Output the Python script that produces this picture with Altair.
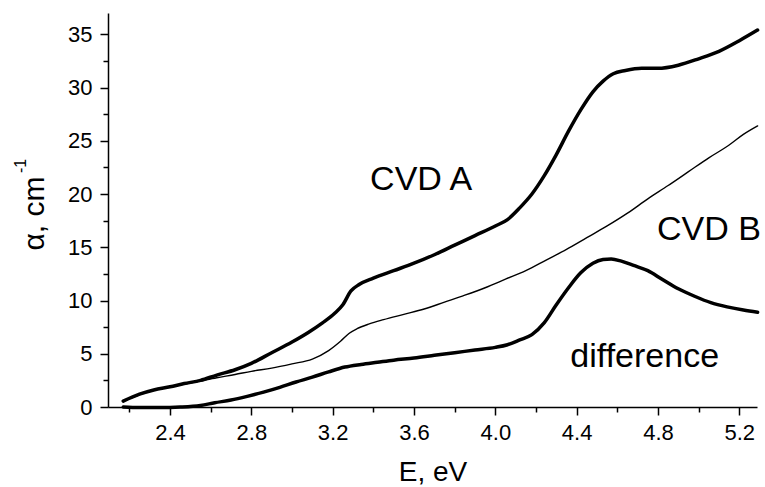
import altair as alt
import pandas as pd

# ---- data ----
cvd_a_x = [2.17, 2.25, 2.32, 2.40, 2.47, 2.55, 2.63, 2.72, 2.80, 2.90, 3.00, 3.08, 3.15,
           3.21, 3.25, 3.29, 3.33, 3.40, 3.50, 3.60, 3.70, 3.80, 3.90, 4.00, 4.06, 4.12,
           4.18, 4.24, 4.30, 4.36, 4.42, 4.48, 4.53, 4.58, 4.64, 4.72, 4.80, 4.90, 5.00,
           5.10, 5.20, 5.29]
cvd_a_y = [0.55, 1.2, 1.6, 1.9, 2.2, 2.5, 3.0, 3.5, 4.1, 5.1, 6.1, 7.0, 7.9,
           8.8, 9.6, 10.9, 11.5, 12.1, 12.8, 13.5, 14.3, 15.2, 16.1, 17.0, 17.6, 18.7,
           20.0, 21.7, 23.7, 25.9, 27.9, 29.6, 30.6, 31.3, 31.6, 31.8, 31.8, 32.1, 32.7,
           33.4, 34.4, 35.4]

cvd_b_x = [2.17, 2.25, 2.32, 2.40, 2.47, 2.55, 2.63, 2.72, 2.80, 2.90, 3.00, 3.10, 3.18,
           3.24, 3.28, 3.32, 3.38, 3.45, 3.55, 3.65, 3.75, 3.85, 3.95, 4.05, 4.15, 4.25,
           4.35, 4.45, 4.55, 4.65, 4.75, 4.85, 4.95, 5.05, 5.15, 5.22, 5.29]
cvd_b_y = [0.55, 1.15, 1.6, 1.9, 2.15, 2.45, 2.75, 3.05, 3.35, 3.65, 4.05, 4.5, 5.3,
           6.2, 6.9, 7.35, 7.8, 8.2, 8.7, 9.2, 9.85, 10.5, 11.2, 12.0, 12.8, 13.8,
           14.8, 15.9, 17.0, 18.2, 19.55, 20.8, 22.1, 23.4, 24.6, 25.6, 26.4]

diff_x = [2.17, 2.25, 2.35, 2.45, 2.55, 2.62, 2.70, 2.78, 2.86, 2.94, 3.02, 3.10, 3.18,
          3.26, 3.34, 3.42, 3.50, 3.60, 3.70, 3.80, 3.90, 4.00, 4.06, 4.12, 4.18, 4.24,
          4.30, 4.36, 4.42, 4.48, 4.53, 4.57, 4.62, 4.68, 4.75, 4.82, 4.90, 4.98, 5.06,
          5.14, 5.22, 5.29]
diff_y = [0.0, -0.05, -0.05, 0.0, 0.15, 0.4, 0.65, 1.0, 1.4, 1.85, 2.35, 2.8, 3.3,
          3.75, 4.0, 4.2, 4.4, 4.6, 4.85, 5.1, 5.35, 5.6, 5.85, 6.3, 6.8, 7.9,
          9.6, 11.2, 12.6, 13.5, 13.85, 13.9, 13.7, 13.3, 12.8, 12.0, 11.1, 10.4, 9.8,
          9.4, 9.1, 8.9]

series_names = ["CVD A", "CVD B", "difference"]
series_widths = [3.5, 1.4, 3.5]

label_texts = ["CVD A", "CVD B", "difference"]
label_x = [3.384, 4.795, 4.369]
label_y = [20.35, 15.72, 3.76]

x_tick_values = [2.2, 2.4, 2.6, 2.8, 3.0, 3.2, 3.4, 3.6, 3.8, 4.0, 4.2, 4.4, 4.6, 4.8, 5.0, 5.2]
y_tick_values = [0, 2.5, 5, 7.5, 10, 12.5, 15, 17.5, 20, 22.5, 25, 27.5, 30, 32.5, 35]

# ---- build tables ----
series_frames = []
for name, xs, ys in zip(series_names, [cvd_a_x, cvd_b_x, diff_x], [cvd_a_y, cvd_b_y, diff_y]):
    series_frames.append(pd.DataFrame({"E": xs, "alpha": ys, "order": list(range(len(xs)))}))

labels_df = pd.DataFrame({"text": label_texts, "E": label_x, "alpha": label_y})
sup_df = pd.DataFrame({"t": ["-1"]})

FONT = "Liberation Sans"

x_scale = alt.Scale(domain=[2.095, 5.287], nice=False, zero=False)
y_scale = alt.Scale(domain=[0, 37], nice=False, zero=False)

x_major = "abs(datum.value / 0.4 - round(datum.value / 0.4)) < 0.001"
y_major = "abs(datum.value / 5 - round(datum.value / 5)) < 0.001"

x_axis = alt.Axis(
    values=x_tick_values,
    title="E, eV",
    grid=False,
    domainColor="black", domainWidth=1.5,
    tickColor="black", tickWidth=1.5,
    tickSize={"condition": {"test": x_major, "value": 8}, "value": 5},
    labelExpr=f"({x_major}) ? format(datum.value, '.1f') : ''",
    labelFont=FONT, labelFontSize=22, labelColor="black",
    labelPadding=7, labelFlush=False, labelOverlap=False,
    titleFont=FONT, titleFontSize=28, titleFontWeight="normal", titleColor="black",
    titleX=324.5, titleY=73.5, titleBaseline="alphabetic", titleAlign="center",
)

y_axis = alt.Axis(
    values=y_tick_values,
    title="α, cm",
    grid=False,
    domainColor="black", domainWidth=1.5,
    tickColor="black", tickWidth=1.5,
    tickSize={"condition": {"test": y_major, "value": 8}, "value": 5},
    labelExpr=f"({y_major}) ? format(datum.value, 'd') : ''",
    labelFont=FONT, labelFontSize=22, labelColor="black",
    labelPadding=8, labelFlush=False, labelOverlap=False,
    titleFont=FONT, titleFontSize=30, titleFontWeight="normal", titleColor="black",
    titleAngle=270, titleX=-65, titleY=200, titleBaseline="alphabetic", titleAlign="center",
)

layers = []
for frame, width in zip(series_frames, series_widths):
    layers.append(
        alt.Chart(frame).mark_line(
            color="black", strokeWidth=width, strokeJoin="round", strokeCap="round",
            interpolate="monotone"
        ).encode(
            x=alt.X("E:Q", scale=x_scale, axis=x_axis),
            y=alt.Y("alpha:Q", scale=y_scale, axis=y_axis),
            order="order:Q",
        )
    )

labels = alt.Chart(labels_df).mark_text(
    align="left", baseline="alphabetic", font=FONT, fontSize=34, color="black"
).encode(
    x=alt.X("E:Q", scale=x_scale, axis=x_axis),
    y=alt.Y("alpha:Q", scale=y_scale, axis=y_axis),
    text="text:N",
)

sup = alt.Chart(sup_df).mark_text(
    angle=270, align="center", baseline="alphabetic", font=FONT, fontSize=16, color="black"
).encode(
    x=alt.value(-82),
    y=alt.value(153),
    text="t:N",
)

chart = alt.layer(*layers, labels, sup).properties(
    width=649,
    height=394,
    autosize=alt.AutoSizeParams(type="none"),
    padding={"left": 108, "top": 13, "right": 8, "bottom": 80},
    background="white",
).configure_view(stroke=None)

chart.save("out.html", embed_options={"renderer": "svg", "actions": False})
